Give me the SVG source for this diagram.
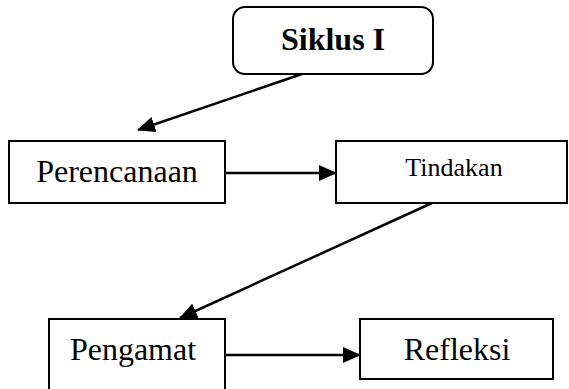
<svg xmlns="http://www.w3.org/2000/svg" width="569" height="389" viewBox="0 0 569 389">
  <style>
    .box { fill: #ffffff; stroke: #000000; stroke-width: 2; }
    .lbl { font-family: "Liberation Serif", "Times New Roman", serif; font-size: 32px; fill: #000000; text-anchor: middle; }
    .con { stroke: #000000; stroke-width: 2.5; fill: none; marker-end: url(#arrow); }
  </style>
  <defs>
    <marker id="arrow" markerUnits="userSpaceOnUse" markerWidth="18" markerHeight="16" refX="17" refY="8" orient="auto" viewBox="0 0 18 16">
      <path d="M0,0 L18,8 L0,16 Z" fill="#000000"/>
    </marker>
  </defs>
  <rect width="569" height="389" fill="#ffffff"/>
  <g id="siklus">
    <rect class="box" x="233" y="7" width="200" height="67" rx="12" ry="12"/>
    <text class="lbl" x="333" y="50" font-weight="bold">Siklus I</text>
  </g>
  <g id="perencanaan">
    <rect class="box" x="9" y="141" width="216" height="62"/>
    <text class="lbl" x="117" y="182">Perencanaan</text>
  </g>
  <g id="tindakan">
    <rect class="box" x="336" y="141" width="231" height="62"/>
    <text class="lbl" x="454" y="176" style="font-size:26px">Tindakan</text>
  </g>
  <g id="pengamat">
    <rect class="box" x="49" y="319" width="176" height="82"/>
    <text class="lbl" x="133" y="360">Pengamat</text>
  </g>
  <g id="refleksi">
    <rect class="box" x="360" y="319" width="193" height="60"/>
    <text class="lbl" x="457" y="360">Refleksi</text>
  </g>
  <g id="connectors">
    <line class="con" x1="302" y1="74" x2="138" y2="130"/>
    <line class="con" x1="225" y1="173" x2="336" y2="173"/>
    <line class="con" x1="432" y1="203" x2="180" y2="318"/>
    <line class="con" x1="225" y1="355" x2="360" y2="355"/>
  </g>
</svg>
